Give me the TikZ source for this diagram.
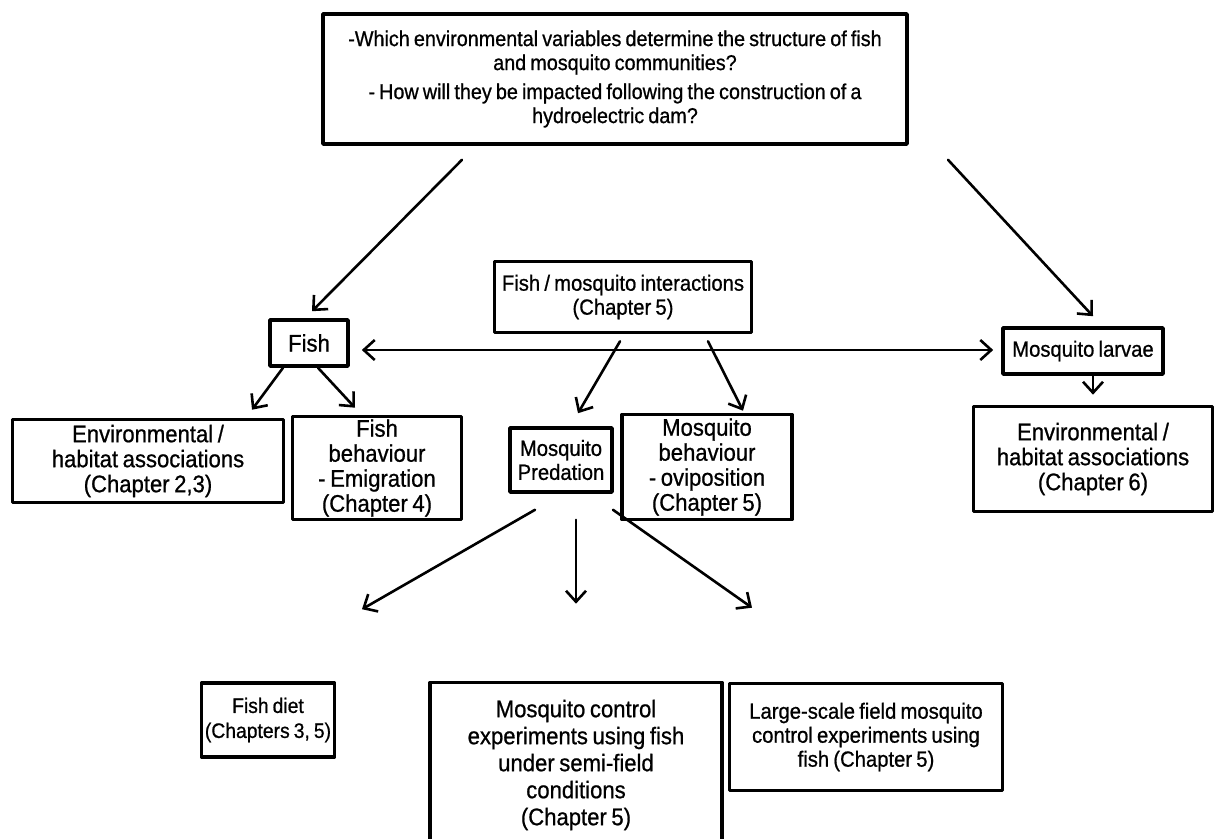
\documentclass[tikz,border=0pt]{standalone}
\usepackage{fontspec}
\setmainfont{Liberation Sans}[FakeStretch=0.92,WordSpace=0.75,FakeBold=0.8]
\usetikzlibrary{arrows.meta}
\newcommand\bigtxt{\fontsize{24}{25}\selectfont}
\begin{document}
\begin{tikzpicture}[x=1pt,y=-1pt,>={Straight Barb[length=11pt,width=20pt]},
	font=\fontsize{22}{24}\selectfont, line join=round, line cap=round,
	box/.style={draw,line width=3.6pt,align=center,inner sep=0pt},
	link/.style={->,line width=2.6pt}]
	\useasboundingbox (0,0) rectangle (1218,838);
	\clip (0,0) rectangle (1218,838);
	\node[box,minimum width=584,minimum height=130,font=\fontsize{21.5}{24}\selectfont] (quest) at (615,79) {-Which environmental variables determine the structure of fish\\ and mosquito communities?\\[5pt] - How will they be impacted following the construction of a\\ hydroelectric dam?};
	\node[box,minimum width=78,minimum height=46,font=\bigtxt] (fish) at (309,343) {Fish};
	\node[box,minimum width=257,minimum height=71] (inter) at (623,297) {Fish / mosquito interactions\\ (Chapter 5)};
	\node[box,minimum width=160,minimum height=46] (larvae) at (1083,351) {Mosquito larvae};
	\node[box,minimum width=271,minimum height=83,font=\bigtxt] (envl) at (148,461) {Environmental /\\ habitat associations\\ (Chapter 2,3)};
	\node[box,minimum width=169,minimum height=103,font=\bigtxt] (fbeh) at (377,468) {Fish\\ behaviour\\ - Emigration\\ (Chapter 4)};
	\node[box,minimum width=102,minimum height=64] (pred) at (561,460) {Mosquito\\ Predation};
	\node[box,minimum width=170,minimum height=105,font=\bigtxt] (mbeh) at (707,467) {Mosquito\\ behaviour\\ - oviposition\\ (Chapter 5)};
	\node[box,minimum width=239,minimum height=105,font=\bigtxt] (envr) at (1093,459) {Environmental /\\ habitat associations\\ (Chapter 6)};
	\node[box,minimum width=133,minimum height=74,font=\fontsize{21}{25}\selectfont] (diet) at (268,720) {Fish diet\\ (Chapters 3, 5)};
	\node[box,minimum width=292,minimum height=165,font=\fontsize{24}{27}\selectfont] (ctrl) at (576,765) {Mosquito control\\ experiments using fish\\ under semi-field\\ conditions\\ (Chapter 5)};
	\node[box,minimum width=273,minimum height=107] (large) at (866,737) {Large-scale field mosquito\\ control experiments using\\ fish (Chapter 5)};
	\draw[link] ([xshift=-153pt,yshift=-14pt]quest.south) -- ([xshift=3pt,yshift=7pt]fish.north);
	\draw[link] ([xshift=333pt,yshift=-14pt]quest.south) -- ([xshift=10pt,yshift=10pt]larvae.north);
	\draw[link,<->,shorten <=12pt,shorten >=8pt] ([yshift=-7pt]fish.east) -- ([yshift=-7pt]fish.east -| larvae.west);
	\draw[link] ([xshift=-3pt,yshift=-7pt]inter.south) -- ([xshift=17pt,yshift=13pt]pred.north);
	\draw[link] ([xshift=85pt,yshift=-7pt]inter.south) -- ([xshift=36pt,yshift=2pt]mbeh.north);
	\draw[link] ([xshift=-26pt]fish.south) -- ([xshift=104pt,yshift=8pt]envl.north);
	\draw[link] ([xshift=9pt]fish.south) -- ([xshift=-22pt,yshift=7pt]fbeh.north);
	\draw[link] ([xshift=10pt]larvae.south) -- ([yshift=10pt]envr.north);
	\draw[link] ([xshift=-26pt,yshift=-16pt]pred.south) -- ([xshift=94pt,yshift=72pt]diet.north);
	\draw[link] ([xshift=15pt,yshift=-26pt]pred.south) -- ([yshift=77pt]ctrl.north);
	\draw[link] ([xshift=52pt,yshift=-16pt]pred.south) -- ([xshift=-114pt,yshift=74pt]large.north);
\end{tikzpicture}
\end{document}
